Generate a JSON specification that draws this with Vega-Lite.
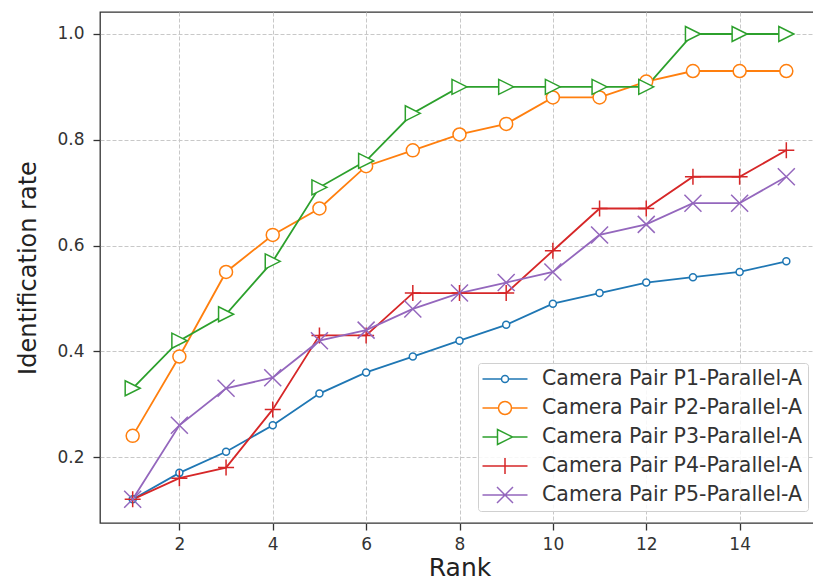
{
  "$schema": "https://vega.github.io/schema/vega-lite/v6.json",
  "width": 719,
  "height": 511,
  "autosize": {"type": "none"},
  "padding": {"left": 100, "top": 12, "right": 0, "bottom": 62},
  "background": "white",
  "config": {
    "view": {"stroke": "#333333", "strokeWidth": 1.3},
    "font": "DejaVu Sans",
    "axis": {
      "domain": false,
      "tickColor": "#333333",
      "tickSize": 7,
      "tickWidth": 1.3,
      "labelFont": "DejaVu Sans",
      "labelFontSize": 17,
      "labelColor": "#333333",
      "titleFont": "DejaVu Sans",
      "titleFontSize": 24,
      "titleFontWeight": "normal",
      "titleColor": "#222222",
      "grid": true,
      "gridColor": "#c8c8c8",
      "gridDash": [4, 2],
      "gridWidth": 1,
      "labelFlush": false,
      "labelOverlap": false
    },
    "legend": {
      "orient": "none",
      "legendX": 378,
      "legendY": 351,
      "padding": 5,
      "fillColor": "rgba(255,255,255,0.85)",
      "strokeColor": "#d0d0d0",
      "cornerRadius": 3,
      "labelFont": "DejaVu Sans",
      "labelFontSize": 20.5,
      "labelColor": "#333333",
      "labelOffset": 26,
      "symbolOffset": 11,
      "symbolSize": 400,
      "symbolStrokeWidth": 1.5,
      "symbolFillColor": "white",
      "symbolOpacity": 1,
      "rowPadding": 7,
      "labelLimit": 400
    }
  },
  "data": {
    "values": [
      {"rank": 1, "rate": 0.12, "series": "Camera Pair P1-Parallel-A"},
      {"rank": 2, "rate": 0.17, "series": "Camera Pair P1-Parallel-A"},
      {"rank": 3, "rate": 0.21, "series": "Camera Pair P1-Parallel-A"},
      {"rank": 4, "rate": 0.26, "series": "Camera Pair P1-Parallel-A"},
      {"rank": 5, "rate": 0.32, "series": "Camera Pair P1-Parallel-A"},
      {"rank": 6, "rate": 0.36, "series": "Camera Pair P1-Parallel-A"},
      {"rank": 7, "rate": 0.39, "series": "Camera Pair P1-Parallel-A"},
      {"rank": 8, "rate": 0.42, "series": "Camera Pair P1-Parallel-A"},
      {"rank": 9, "rate": 0.45, "series": "Camera Pair P1-Parallel-A"},
      {"rank": 10, "rate": 0.49, "series": "Camera Pair P1-Parallel-A"},
      {"rank": 11, "rate": 0.51, "series": "Camera Pair P1-Parallel-A"},
      {"rank": 12, "rate": 0.53, "series": "Camera Pair P1-Parallel-A"},
      {"rank": 13, "rate": 0.54, "series": "Camera Pair P1-Parallel-A"},
      {"rank": 14, "rate": 0.55, "series": "Camera Pair P1-Parallel-A"},
      {"rank": 15, "rate": 0.57, "series": "Camera Pair P1-Parallel-A"},
      {"rank": 1, "rate": 0.24, "series": "Camera Pair P2-Parallel-A"},
      {"rank": 2, "rate": 0.39, "series": "Camera Pair P2-Parallel-A"},
      {"rank": 3, "rate": 0.55, "series": "Camera Pair P2-Parallel-A"},
      {"rank": 4, "rate": 0.62, "series": "Camera Pair P2-Parallel-A"},
      {"rank": 5, "rate": 0.67, "series": "Camera Pair P2-Parallel-A"},
      {"rank": 6, "rate": 0.75, "series": "Camera Pair P2-Parallel-A"},
      {"rank": 7, "rate": 0.78, "series": "Camera Pair P2-Parallel-A"},
      {"rank": 8, "rate": 0.81, "series": "Camera Pair P2-Parallel-A"},
      {"rank": 9, "rate": 0.83, "series": "Camera Pair P2-Parallel-A"},
      {"rank": 10, "rate": 0.88, "series": "Camera Pair P2-Parallel-A"},
      {"rank": 11, "rate": 0.88, "series": "Camera Pair P2-Parallel-A"},
      {"rank": 12, "rate": 0.91, "series": "Camera Pair P2-Parallel-A"},
      {"rank": 13, "rate": 0.93, "series": "Camera Pair P2-Parallel-A"},
      {"rank": 14, "rate": 0.93, "series": "Camera Pair P2-Parallel-A"},
      {"rank": 15, "rate": 0.93, "series": "Camera Pair P2-Parallel-A"},
      {"rank": 1, "rate": 0.33, "series": "Camera Pair P3-Parallel-A"},
      {"rank": 2, "rate": 0.42, "series": "Camera Pair P3-Parallel-A"},
      {"rank": 3, "rate": 0.47, "series": "Camera Pair P3-Parallel-A"},
      {"rank": 4, "rate": 0.57, "series": "Camera Pair P3-Parallel-A"},
      {"rank": 5, "rate": 0.71, "series": "Camera Pair P3-Parallel-A"},
      {"rank": 6, "rate": 0.76, "series": "Camera Pair P3-Parallel-A"},
      {"rank": 7, "rate": 0.85, "series": "Camera Pair P3-Parallel-A"},
      {"rank": 8, "rate": 0.9, "series": "Camera Pair P3-Parallel-A"},
      {"rank": 9, "rate": 0.9, "series": "Camera Pair P3-Parallel-A"},
      {"rank": 10, "rate": 0.9, "series": "Camera Pair P3-Parallel-A"},
      {"rank": 11, "rate": 0.9, "series": "Camera Pair P3-Parallel-A"},
      {"rank": 12, "rate": 0.9, "series": "Camera Pair P3-Parallel-A"},
      {"rank": 13, "rate": 1.0, "series": "Camera Pair P3-Parallel-A"},
      {"rank": 14, "rate": 1.0, "series": "Camera Pair P3-Parallel-A"},
      {"rank": 15, "rate": 1.0, "series": "Camera Pair P3-Parallel-A"},
      {"rank": 1, "rate": 0.12, "series": "Camera Pair P4-Parallel-A"},
      {"rank": 2, "rate": 0.16, "series": "Camera Pair P4-Parallel-A"},
      {"rank": 3, "rate": 0.18, "series": "Camera Pair P4-Parallel-A"},
      {"rank": 4, "rate": 0.29, "series": "Camera Pair P4-Parallel-A"},
      {"rank": 5, "rate": 0.43, "series": "Camera Pair P4-Parallel-A"},
      {"rank": 6, "rate": 0.43, "series": "Camera Pair P4-Parallel-A"},
      {"rank": 7, "rate": 0.51, "series": "Camera Pair P4-Parallel-A"},
      {"rank": 8, "rate": 0.51, "series": "Camera Pair P4-Parallel-A"},
      {"rank": 9, "rate": 0.51, "series": "Camera Pair P4-Parallel-A"},
      {"rank": 10, "rate": 0.59, "series": "Camera Pair P4-Parallel-A"},
      {"rank": 11, "rate": 0.67, "series": "Camera Pair P4-Parallel-A"},
      {"rank": 12, "rate": 0.67, "series": "Camera Pair P4-Parallel-A"},
      {"rank": 13, "rate": 0.73, "series": "Camera Pair P4-Parallel-A"},
      {"rank": 14, "rate": 0.73, "series": "Camera Pair P4-Parallel-A"},
      {"rank": 15, "rate": 0.78, "series": "Camera Pair P4-Parallel-A"},
      {"rank": 1, "rate": 0.12, "series": "Camera Pair P5-Parallel-A"},
      {"rank": 2, "rate": 0.26, "series": "Camera Pair P5-Parallel-A"},
      {"rank": 3, "rate": 0.33, "series": "Camera Pair P5-Parallel-A"},
      {"rank": 4, "rate": 0.35, "series": "Camera Pair P5-Parallel-A"},
      {"rank": 5, "rate": 0.42, "series": "Camera Pair P5-Parallel-A"},
      {"rank": 6, "rate": 0.44, "series": "Camera Pair P5-Parallel-A"},
      {"rank": 7, "rate": 0.48, "series": "Camera Pair P5-Parallel-A"},
      {"rank": 8, "rate": 0.51, "series": "Camera Pair P5-Parallel-A"},
      {"rank": 9, "rate": 0.53, "series": "Camera Pair P5-Parallel-A"},
      {"rank": 10, "rate": 0.55, "series": "Camera Pair P5-Parallel-A"},
      {"rank": 11, "rate": 0.62, "series": "Camera Pair P5-Parallel-A"},
      {"rank": 12, "rate": 0.64, "series": "Camera Pair P5-Parallel-A"},
      {"rank": 13, "rate": 0.68, "series": "Camera Pair P5-Parallel-A"},
      {"rank": 14, "rate": 0.68, "series": "Camera Pair P5-Parallel-A"},
      {"rank": 15, "rate": 0.73, "series": "Camera Pair P5-Parallel-A"}
    ]
  },
  "encoding": {
    "x": {
      "field": "rank",
      "type": "quantitative",
      "scale": {"domain": [0.3, 15.7], "nice": false, "zero": false},
      "axis": {"values": [2, 4, 6, 8, 10, 12, 14], "title": "Rank", "labelPadding": 6, "titlePadding": 3, "titleFontSize": 25}
    },
    "y": {
      "field": "rate",
      "type": "quantitative",
      "scale": {"domain": [0.0752, 1.0416], "nice": false, "zero": false},
      "axis": {"values": [0.2, 0.4, 0.6, 0.8, 1.0], "format": ".1f", "title": "Identification rate", "labelPadding": 9, "titlePadding": 16}
    },
    "color": {
      "field": "series",
      "type": "nominal",
      "scale": {
        "domain": ["Camera Pair P1-Parallel-A", "Camera Pair P2-Parallel-A", "Camera Pair P3-Parallel-A", "Camera Pair P4-Parallel-A", "Camera Pair P5-Parallel-A"],
        "range": ["#1f77b4", "#ff7f0e", "#2ca02c", "#d62728", "#9467bd"]
      },
      "legend": {"title": null}
    }
  },
  "layer": [
    {"mark": {"type": "line", "strokeWidth": 1.8}},
    {
      "mark": {"type": "point", "filled": false, "fill": "white", "size": 400, "strokeWidth": 1.5, "opacity": 1},
      "encoding": {
        "color": {
          "condition": [
            {"test": "datum.series === 'Camera Pair P1-Parallel-A'", "value": "#1f77b4"},
            {"test": "datum.series === 'Camera Pair P2-Parallel-A'", "value": "#ff7f0e"},
            {"test": "datum.series === 'Camera Pair P3-Parallel-A'", "value": "#2ca02c"},
            {"test": "datum.series === 'Camera Pair P4-Parallel-A'", "value": "#d62728"}
          ],
          "value": "#9467bd"
        },
        "shape": {
          "condition": [
            {"test": "datum.series === 'Camera Pair P1-Parallel-A'", "value": "M0.35,0A0.35,0.35,0,1,1,-0.35,0A0.35,0.35,0,1,1,0.35,0Z"},
            {"test": "datum.series === 'Camera Pair P2-Parallel-A'", "value": "M0.65,0A0.65,0.65,0,1,1,-0.65,0A0.65,0.65,0,1,1,0.65,0Z"},
            {"test": "datum.series === 'Camera Pair P3-Parallel-A'", "value": "M0.75,0L-0.75,-0.75L-0.75,0.75Z"},
            {"test": "datum.series === 'Camera Pair P4-Parallel-A'", "value": "M-0.8,0H0.8M0,-0.8V0.8"}
          ],
          "value": "M-0.85,-0.85L0.85,0.85M-0.85,0.85L0.85,-0.85"
        }
      }
    },
    {
      "transform": [{"filter": "false"}],
      "mark": {"type": "point", "filled": false, "fill": "white", "size": 400, "strokeWidth": 1.5, "opacity": 1},
      "encoding": {
        "shape": {
          "field": "series",
          "type": "nominal",
          "scale": {
            "domain": ["Camera Pair P1-Parallel-A", "Camera Pair P2-Parallel-A", "Camera Pair P3-Parallel-A", "Camera Pair P4-Parallel-A", "Camera Pair P5-Parallel-A"],
            "range": [
              "M-2.25,0H-0.35M0.35,0H2.25M0.35,0A0.35,0.35,0,1,1,-0.35,0A0.35,0.35,0,1,1,0.35,0Z",
              "M-2.25,0H-0.65M0.65,0H2.25M0.65,0A0.65,0.65,0,1,1,-0.65,0A0.65,0.65,0,1,1,0.65,0Z",
              "M-2.25,0H-0.75M0.75,0H2.25M0.75,0L-0.75,-0.75L-0.75,0.75Z",
              "M-2.25,0H2.25M0,-0.8V0.8",
              "M-2.25,0H2.25M-0.8,-0.8L0.8,0.8M-0.8,0.8L0.8,-0.8"
            ]
          },
          "legend": {"title": null}
        }
      }
    }
  ]
}
